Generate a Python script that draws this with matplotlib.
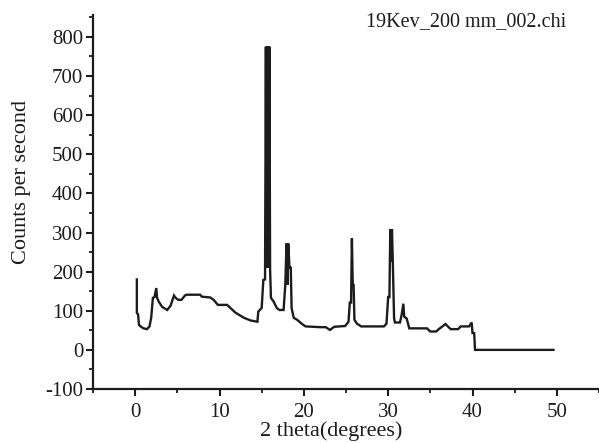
import matplotlib
matplotlib.use("Agg")
import matplotlib.pyplot as plt
from matplotlib.ticker import MultipleLocator

plt.rcParams["font.family"] = ["Liberation Serif", "DejaVu Serif"]
plt.rcParams["axes.unicode_minus"] = False

# diffraction pattern (2theta in degrees, counts per second)
two_theta = [0.2, 0.2, 0.35, 0.45, 0.7, 1.0, 1.4, 1.7, 1.9, 2.1, 2.3, 2.5, 2.6, 2.8,
             3.2, 3.8, 4.2, 4.6, 4.8, 5.1, 5.5, 5.9, 6.1, 7.7, 7.9, 8.9, 9.3, 9.8,
             10.9, 11.3, 11.9, 12.9, 13.7, 14.5, 14.6, 15.0, 15.2, 15.4, 15.5,
             15.57, 15.64, 15.71, 15.78, 15.85, 15.92, 16.0, 16.1, 16.4, 16.8,
             17.1, 17.6, 17.8,
             17.95, 18.05, 18.15, 18.3, 18.45, 18.55, 18.8, 19.2, 19.8, 20.2,
             22.0, 22.6, 23.1, 23.6, 24.9, 25.3, 25.45, 25.6, 25.7, 25.8, 25.9,
             26.0, 26.3, 26.8, 29.5, 29.8, 30.0, 30.15, 30.25, 30.35, 30.45,
             30.55, 30.7, 30.8, 31.0, 31.4, 31.6, 31.8, 31.9, 32.2, 32.5, 34.6,
             35.0, 35.7, 36.0, 36.8, 37.4, 38.3, 38.6, 39.6, 39.9, 40.0, 40.2,
             40.3, 49.6]
counts = [180, 95, 90, 64, 59, 55, 53, 60, 82, 133, 135, 158, 133, 123,
          110, 102, 113, 139, 133, 128, 128, 139, 141, 141, 136, 134, 128, 115,
          115, 107, 95, 82, 75, 72, 98, 107, 179, 180, 775,
          210, 775, 210, 775, 210, 775, 205, 133, 124, 107,
          102, 102, 166,
          272, 166, 272, 210, 210, 107, 82, 77, 66, 60,
          58, 58, 51, 59, 61, 72, 121, 121, 285, 166, 166,
          77, 67, 60, 60, 67, 135, 135, 308, 226, 308,
          226, 81, 70, 70, 70, 90, 118, 85, 80, 55, 55,
          47, 47, 53, 66, 53, 53, 60, 60, 70, 43, 43,
          0, 0]

x_ticks = [0, 10, 20, 30, 40, 50]
y_ticks = [-100, 0, 100, 200, 300, 400, 500, 600, 700, 800]

fig = plt.figure(figsize=(5.99, 4.43), dpi=100)
ax = fig.add_axes([93 / 599, 54 / 443, 506 / 599, 374 / 443])

ax.plot(two_theta, counts, color="#1c1c1c", lw=1.7, solid_joinstyle="miter")

ax.set_xlim(-5, 55)
ax.set_ylim(-100, 856)
ax.set_xticks(x_ticks)
ax.set_yticks(y_ticks)
ax.xaxis.set_minor_locator(MultipleLocator(5))
ax.yaxis.set_minor_locator(MultipleLocator(50))
ax.tick_params(which="major", direction="out", length=5, width=1.5,
               labelsize=15, colors="#1c1c1c", pad=2)
ax.tick_params(axis="x", which="major", pad=5)
ax.tick_params(which="minor", direction="out", length=3, width=1.3, colors="#1c1c1c")
for s in ["top", "right"]:
    ax.spines[s].set_visible(False)
for s in ["left", "bottom"]:
    ax.spines[s].set_linewidth(1.6)
    ax.spines[s].set_color("#1c1c1c")

fig.text(331 / 599, 2 / 443, "2 theta(degrees)", ha="center", va="bottom",
         fontsize=16, color="#1c1c1c")
fig.text(22 / 599, 1 - 182 / 443, "Counts per second", ha="center", va="center",
         rotation=90, fontsize=16, color="#1c1c1c")
fig.text(566 / 599, 1 - 22 / 443, "19Kev_200 mm_002.chi", ha="right", va="center",
         fontsize=14.5, color="#1c1c1c")

fig.savefig("out.png", dpi=100)
